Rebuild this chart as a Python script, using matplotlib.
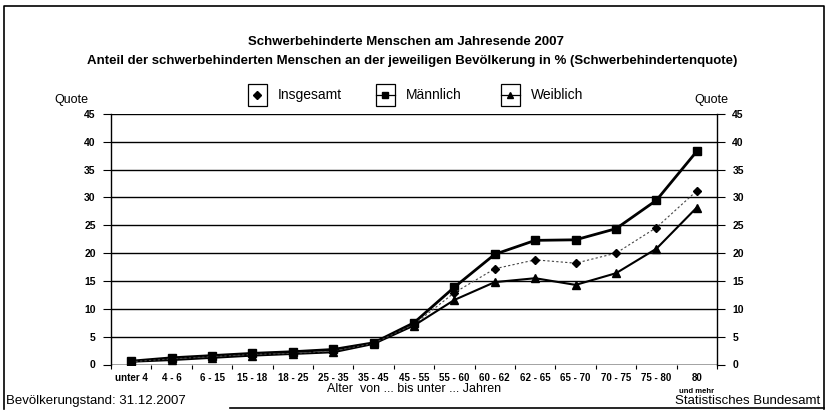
import numpy as np
import matplotlib.pyplot as plt
from matplotlib.patches import Rectangle
from matplotlib.ticker import FixedLocator

plt.rcParams['font.family'] = ['Liberation Sans', 'DejaVu Sans']

# Altersgruppen und Quoten (in %)
groups = ['unter 4', '4 - 6', '6 - 15', '15 - 18', '18 - 25', '25 - 35', '35 - 45',
          '45 - 55', '55 - 60', '60 - 62', '62 - 65', '65 - 70', '70 - 75', '75 - 80', '80']
insgesamt = [0.5, 1.0, 1.4, 1.8, 2.0, 2.4, 3.8, 7.2, 12.9, 17.2, 18.8, 18.2, 20.0, 24.6, 31.2]
maennlich = [0.6, 1.2, 1.6, 2.0, 2.3, 2.7, 3.9, 7.5, 13.9, 19.8, 22.3, 22.4, 24.4, 29.5, 38.3]
weiblich = [0.5, 0.8, 1.2, 1.6, 1.9, 2.2, 3.7, 7.0, 11.6, 14.8, 15.5, 14.3, 16.4, 20.8, 28.2]

W, H = 829, 412
fig = plt.figure(figsize=(W / 100, H / 100), dpi=100)

# Hauptdiagramm
ax = fig.add_axes([111 / W, 1 - 364.5 / H, (717 - 111) / W, (364.5 - 114) / H])
x = np.arange(len(groups))
ax.plot(x, maennlich, color='black', lw=2.0, marker='s', ms=6, zorder=4)
ax.plot(x, weiblich, color='black', lw=1.5, marker='^', ms=6, zorder=4)
ax.plot(x, insgesamt, color='#444444', lw=0.8, ls=(0, (2, 2)), marker='D', ms=4.5,
        mfc='black', mec='black', zorder=5)

ax.set_xlim(-0.5, len(groups) - 0.5)
ax.set_ylim(0, 45)
ax.set_yticks(np.arange(0, 46, 5))
ax.yaxis.grid(True, color='black', lw=1.0)
ax.set_axisbelow(True)
for s in ['top', 'bottom']:
    ax.spines[s].set_visible(False)
for s in ['left', 'right']:
    ax.spines[s].set_linewidth(1.0)
ax.axhline(0, color='black', lw=1.0)

ax.set_xticks(x)
ax.set_xticklabels(groups, fontsize=7, fontweight='bold')
ax.xaxis.set_minor_locator(FixedLocator(np.arange(-0.5, len(groups), 1)))
ax.tick_params(axis='x', which='major', length=0, pad=6)
ax.tick_params(axis='x', which='minor', length=3, width=0.8, direction='out')
ax.tick_params(axis='y', length=6, width=0.8, direction='out', right=True,
               labelright=True, labelsize=7.5, pad=5)
for lab in ax.get_yticklabels(which='both'):
    lab.set_fontweight('bold')
ax.text(len(groups) - 1, -4.3, 'und mehr', ha='center', va='top', fontsize=5.5,
        fontweight='bold')
ax.set_xlabel('Alter  von ... bis unter ... Jahren', fontsize=9, labelpad=0)

# Overlay in Pixelkoordinaten fuer Rahmen, Titel und Legende
ov = fig.add_axes([0, 0, 1, 1], zorder=-1)
ov.set_xlim(0, W)
ov.set_ylim(H, 0)
ov.axis('off')
ov.plot([4, 4, 824, 824], [409, 6, 6, 409], color='black', lw=1.2)
ov.plot([230, 824], [408, 408], color='black', lw=1.2)

fig.text(406 / W, 1 - 42 / H, 'Schwerbehinderte Menschen am Jahresende 2007',
         ha='center', va='center', fontsize=9.5, fontweight='bold')
fig.text(412 / W, 1 - 61 / H,
         'Anteil der schwerbehinderten Menschen an der jeweiligen Bevölkerung in % (Schwerbehindertenquote)',
         ha='center', va='center', fontsize=9.5, fontweight='bold')
fig.text(71 / W, 1 - 100 / H, 'Quote', ha='center', va='center', fontsize=9)
fig.text(711 / W, 1 - 100 / H, 'Quote', ha='center', va='center', fontsize=9)

legend_items = [
    ('Insgesamt', 248, 'D', False),
    ('Männlich', 376, 's', True),
    ('Weiblich', 501, '^', True),
]
for label, bx, mk, with_line in legend_items:
    ov.add_patch(Rectangle((bx, 84), 19, 22, fill=False, ec='black', lw=0.9))
    cx = bx + 9.5
    if with_line:
        ov.plot([bx, bx + 19], [95, 95], color='black', lw=0.9)
    ov.plot([cx], [95], marker=mk, color='black', ms=4 if mk == 'D' else 5)
    ov.text(bx + 30, 95, label, ha='left', va='center', fontsize=10)

fig.text(6 / W, 1 - 401 / H, 'Bevölkerungstand: 31.12.2007', ha='left', va='center', fontsize=9.5)
fig.text(820 / W, 1 - 401 / H, 'Statistisches Bundesamt', ha='right', va='center', fontsize=9.5)

fig.savefig('out.png', dpi=100)
